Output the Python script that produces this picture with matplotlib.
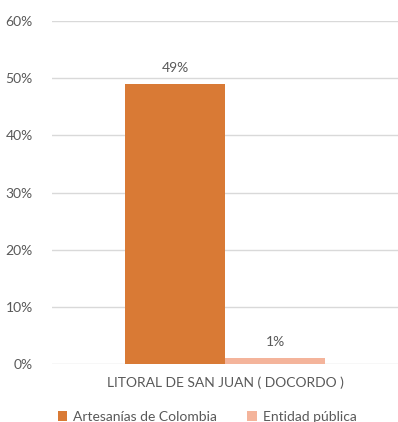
import numpy as np
import matplotlib.pyplot as plt
from matplotlib.ticker import PercentFormatter

plt.rcParams['font.family'] = ['Lato', 'DejaVu Sans']

category = "LITORAL DE SAN JUAN ( DOCORDO )"
series = ["Artesanías de Colombia", "Entidad pública"]
values = [49, 1]
colors = ["#D97A35", "#F4B49B"]
TEXT = "#595959"

fig = plt.figure(figsize=(3.98, 4.22), dpi=100)
ax = fig.add_axes([0.131, 0.1374, 0.869, 0.8126])

width = 0.289
offsets = [-width / 2, width / 2]
for off, v, c, lab in zip(offsets, values, colors, series):
    ax.bar(off, v, width=width, color=c, label=lab, zorder=3)
    ax.text(off, v + 1.8, f"{v}%", ha="center", va="bottom", fontsize=10, color=TEXT)

ax.set_xlim(-0.5, 0.5)
ax.set_ylim(0, 60)
ax.set_yticks(np.arange(0, 61, 10))
ax.yaxis.set_major_formatter(PercentFormatter(decimals=0))
ax.set_xticks([0])
ax.set_xticklabels([category])
ax.tick_params(axis="both", length=0, colors=TEXT, labelsize=10)
ax.tick_params(axis="y", pad=14)
ax.tick_params(axis="x", pad=9)
ax.grid(axis="y", color="#D9D9D9", linewidth=1, zorder=0)
for s in ax.spines.values():
    s.set_visible(False)

leg = fig.legend(loc="center", bbox_to_anchor=(0.52, 0.013), ncol=2, frameon=False,
                 fontsize=10, handlelength=0.7, handleheight=0.7, columnspacing=2.2,
                 handletextpad=0.4)
for t in leg.get_texts():
    t.set_color(TEXT)

fig.savefig("out.png", dpi=100)
